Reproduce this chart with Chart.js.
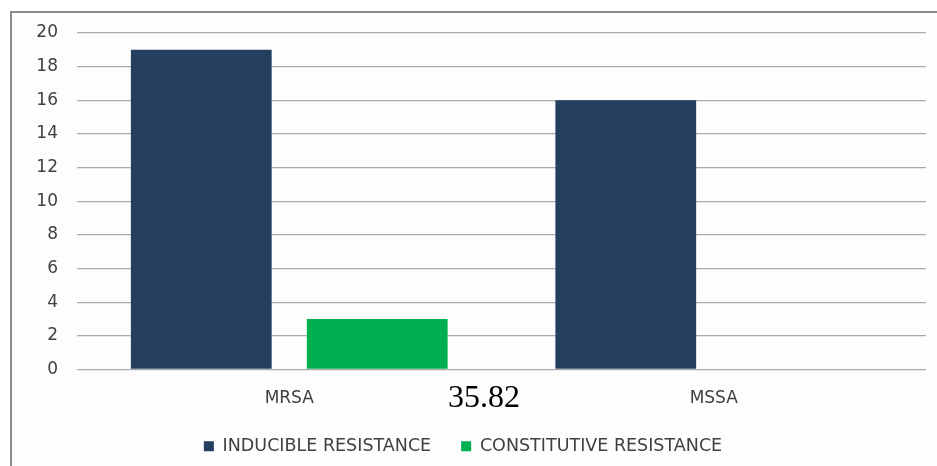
<!DOCTYPE html>
<html>
<head>
<meta charset="utf-8">
<script src="https://cdn.jsdelivr.net/npm/chart.js@4/dist/chart.umd.min.js"></script>
<style>
  html, body { margin: 0; padding: 0; background: #fff; }
  #wrap { position: relative; width: 937px; height: 466px; overflow: hidden; }
  #frame {
    position: absolute; left: 10px; top: 11px; width: 940px; height: 480px;
    border: 2px solid #8c8c8c; background: #fdfdfd;
  }
  #grafico { position: absolute; left: 0; top: 0; }
</style>
</head>
<body>
<div id="wrap">
  <div id="frame"></div>
  <canvas id="grafico" width="937" height="466"></canvas>
</div>
<script>
// Dados do gráfico
const categorias = ['MRSA', 'MSSA'];
const induzivel = [19, 16];
const constitutiva = [3, 0];
const ticksY = [0, 2, 4, 6, 8, 10, 12, 14, 16, 18, 20];
const textoSolto = '35.82';

// Texto solto no meio (como no original)
const textoExtra = {
  id: 'textoExtra',
  afterDraw(chart) {
    const ctx = chart.ctx;
    ctx.save();
    ctx.font = '32px "Liberation Serif", serif';
    ctx.fillStyle = '#000';
    ctx.textBaseline = 'alphabetic';
    ctx.fillText(textoSolto, 448, 407);
    ctx.restore();
  }
};

const ctx = document.getElementById('grafico').getContext('2d');
new Chart(ctx, {
  type: 'bar',
  data: {
    labels: categorias,
    datasets: [
      {
        label: 'INDUCIBLE RESISTANCE',
        data: induzivel,
        backgroundColor: '#243f60',
        categoryPercentage: 0.829,
        barPercentage: 0.8
      },
      {
        label: 'CONSTITUTIVE RESISTANCE',
        data: constitutiva,
        backgroundColor: '#00b050',
        categoryPercentage: 0.829,
        barPercentage: 0.8
      }
    ]
  },
  options: {
    responsive: false,
    animation: false,
    layout: { padding: { top: 33, right: 11, bottom: 1, left: 0 } },
    plugins: {
      legend: {
        position: 'bottom',
        labels: {
          color: '#404040',
          font: { family: 'DejaVu Sans', size: 17.5 },
          boxWidth: 10,
          boxHeight: 10,
          padding: 30
        }
      },
      tooltip: { enabled: false }
    },
    scales: {
      x: {
        grid: { display: false, drawTicks: false },
        border: { display: false },
        ticks: { color: '#404040', font: { family: 'DejaVu Sans', size: 17 }, padding: 19 },
        afterFit(scale) { scale.height = 38; }
      },
      y: {
        min: 0,
        max: 20,
        afterBuildTicks(scale) { scale.ticks = ticksY.map(v => ({ value: v })); },
        grid: { color: '#ababab', lineWidth: 1.3, drawTicks: false },
        border: { display: false },
        ticks: { color: '#404040', font: { family: 'DejaVu Sans', size: 17 }, padding: 19 },
        afterFit(scale) { scale.width = 77; }
      }
    }
  },
  plugins: [textoExtra]
});
</script>
</body>
</html>
